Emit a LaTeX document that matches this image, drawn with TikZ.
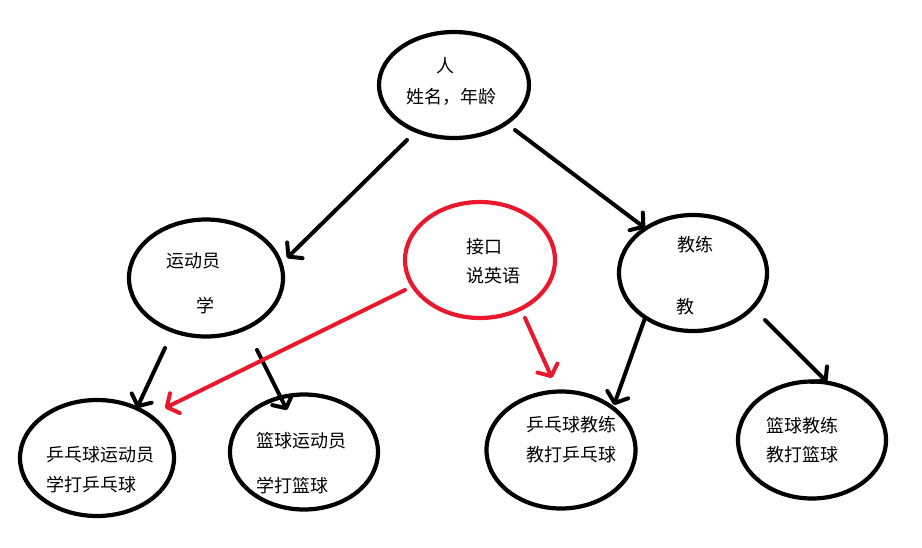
\documentclass[tikz,border=0pt]{standalone}
\usepackage{fontspec}
\newfontfamily\cjk{Noto Sans CJK SC}
\usetikzlibrary{shapes.geometric,arrows.meta}
\definecolor{ired}{HTML}{E8192C}
\begin{document}
\begin{tikzpicture}[x=1pt,y=-1pt,
  oval/.style={draw=black,line width=4.2pt,ellipse,minimum width=#1},
  oval/.default=150pt,
  txt/.style={inner sep=0pt,font=\cjk\fontsize{18}{21}\selectfont},
  arr/.style={line width=4pt,line cap=round,-{Straight Barb[length=9pt,width=22pt,round,line width=4pt]}},
  rarr/.style={arr,draw=ired}]
\useasboundingbox (0,0) rectangle (922,547);
% ellipses
\node[oval=150pt,minimum height=106pt] (top) at (454,85) {};
\node[oval=154pt,minimum height=117pt] (ath) at (206,278) {};
\node[oval=150pt,minimum height=116pt,draw=ired] (ifc) at (480,260) {};
\node[oval=148pt,minimum height=116pt] (coach) at (693,273) {};
\node[oval=154pt,minimum height=116pt] (ppa) at (97,458) {};
\node[oval=148pt,minimum height=115pt] (bba) at (304,452) {};
\node[oval=149pt,minimum height=117pt] (ppc) at (561,450) {};
\node[oval=148pt,minimum height=117pt] (bbc) at (812,440) {};
% texts
\node[txt] (t1) at (445,66) {人};
\node[txt] (t2) at (451,97) {姓名，年龄};
\node[txt,anchor=west] (t3) at (166,261) {运动员};
\node[txt] (t4) at (205,306) {学};
\node[txt,anchor=west] (t5) at (466,247) {接口};
\node[txt,anchor=west] (t6) at (466,276) {说英语};
\node[txt] (t7) at (695,245) {教练};
\node[txt] (t8) at (685,307) {教};
\node[txt,anchor=west] (t9) at (46,455) {乒乓球运动员};
\node[txt,anchor=west] (t10) at (46,485) {学打乒乓球};
\node[txt,anchor=west] (t11) at (256,441) {篮球运动员};
\node[txt,anchor=west] (t12) at (256,486) {学打篮球};
\node[txt,anchor=west] (t13) at (526,425) {乒乓球教练};
\node[txt,anchor=west] (t14) at (526,455) {教打乒乓球};
\node[txt,anchor=west] (t15) at (766,426) {篮球教练};
\node[txt,anchor=west] (t16) at (766,455) {教打篮球};
% arrows
\draw[arr] ([shift={(-47,55)}]top.center) -- ([shift={(81,-20)}]ath.center);
\draw[arr] ([shift={(61,45)}]top.center) -- ([shift={(-48,-45)}]coach.center);
\draw[arr] ([shift={(-41,70)}]ath.center) -- ([shift={(40,-50)}]ppa.center);
\draw[arr] ([shift={(51,72)}]ath.center) -- ([shift={(-17,-42)}]bba.center);
\draw[arr] ([shift={(-48,45)}]coach.center) -- ([shift={(53,-45)}]ppc.center);
\draw[arr] ([shift={(72,47)}]coach.center) -- ([shift={(15,-58)}]bbc.center);
\draw[rarr] ([shift={(-75,30)}]ifc.center) -- ([shift={(68,-50)}]ppa.center);
\draw[rarr] ([shift={(45,58)}]ifc.center) -- ([shift={(-9,-72)}]ppc.center);
\end{tikzpicture}
\end{document}
